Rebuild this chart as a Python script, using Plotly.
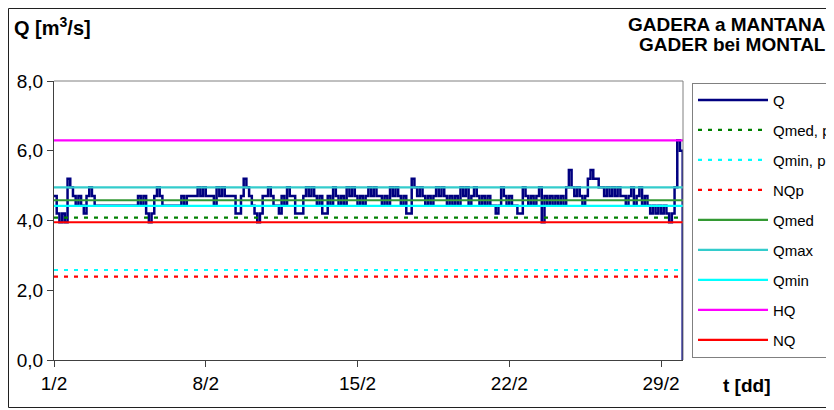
import pandas as pd
import plotly.graph_objects as go

# 3-hourly discharge readings from 2008-02-01 00:00
q_values = [
    4.7, 4.2, 3.95, 4.2, 3.95, 5.2, 4.95, 4.7,      # 1/2
    4.42, 4.7, 4.42, 4.2, 4.7, 4.95, 4.7, 4.42,     # 2/2
    4.42, 4.42, 4.42, 4.42, 4.42, 4.42, 4.42, 4.42, # 3/2
    4.42, 4.42, 4.42, 4.42, 4.42, 4.42, 4.42, 4.7,  # 4/2
    4.42, 4.7, 4.2, 3.95, 4.2, 4.7, 4.95, 4.7,      # 5/2
    4.42, 4.42, 4.42, 4.42, 4.42, 4.42, 4.42, 4.7,  # 6/2
    4.42, 4.7, 4.7, 4.7, 4.7, 4.95, 4.7, 4.95,      # 7/2
    4.7, 4.7, 4.7, 4.42, 4.95, 4.7, 4.95, 4.7,      # 8/2
    4.7, 4.7, 4.7, 4.2, 4.2, 4.7, 5.2, 4.95,        # 9/2
    4.7, 4.42, 4.2, 3.95, 4.2, 4.7, 4.7, 4.95,      # 10/2
    4.7, 4.42, 4.42, 4.2, 4.7, 4.42, 4.95, 4.7,     # 11/2
    4.7, 4.2, 4.2, 4.2, 4.7, 4.95, 4.7, 4.95,       # 12/2
    4.7, 4.42, 4.7, 4.2, 4.2, 4.7, 4.42, 4.95,      # 13/2
    4.7, 4.42, 4.7, 4.42, 4.95, 4.7, 4.95, 4.7,     # 14/2
    4.42, 4.7, 4.42, 4.7, 4.95, 4.7, 4.95, 4.7,     # 15/2
    4.7, 4.42, 4.7, 4.42, 4.95, 4.7, 4.95, 4.7,     # 16/2
    4.42, 4.7, 4.2, 4.2, 5.2, 4.95, 4.7, 4.95,      # 17/2
    4.7, 4.42, 4.7, 4.42, 4.7, 4.95, 4.7, 4.95,     # 18/2
    4.7, 4.42, 4.7, 4.42, 4.7, 4.42, 4.95, 4.7,     # 19/2
    4.95, 4.42, 4.7, 4.95, 4.7, 4.42, 4.7, 4.42,    # 20/2
    4.7, 4.42, 4.42, 4.2, 4.42, 4.95, 4.7, 4.42,    # 21/2
    4.7, 4.42, 4.42, 4.2, 4.2, 4.95, 4.7, 4.42,     # 22/2
    4.7, 4.42, 4.7, 4.95, 3.95, 4.7, 4.42, 4.7,     # 23/2
    4.42, 4.7, 4.42, 4.7, 4.42, 4.95, 5.45, 4.95,   # 24/2
    4.7, 4.95, 4.7, 4.42, 4.7, 5.2, 5.45, 5.2,      # 25/2
    5.2, 4.95, 4.95, 4.7, 4.95, 4.7, 4.95, 4.7,     # 26/2
    4.95, 4.7, 4.7, 4.42, 4.7, 4.95, 4.42, 4.7,     # 27/2
    4.95, 4.42, 4.7, 4.42, 4.2, 4.42, 4.2, 4.42,    # 28/2
    4.2, 4.42, 4.2, 3.95, 4.2, 4.95, 6.3, 6.0,      # 29/2
    0.0,                                            # 1/3
]
q_times = pd.date_range("2008-02-01 00:00", periods=len(q_values), freq="3h")

# reference levels [m3/s]
ref_names = ["Qmed, p", "Qmin, p", "NQp", "Qmed", "Qmax", "Qmin", "HQ", "NQ"]
ref_values = [4.08, 2.58, 2.39, 4.58, 4.95, 4.42, 6.30, 3.95]
ref_colors = ["#008000", "#00FFFF", "#FF0000", "#339933", "#33CCCC", "#00FFFF", "#FF00FF", "#FF0000"]
ref_dashed = [True, True, True, False, False, False, False, False]

x_start = "2008-02-01 00:00"
x_end = "2008-03-01 00:20"

x_tick_dates = ["2008-02-01", "2008-02-08", "2008-02-15", "2008-02-22", "2008-02-29"]
x_tick_labels = ["1/2", "8/2", "15/2", "22/2", "29/2"]
y_tick_vals = [0, 2, 4, 6, 8]
y_tick_labels = ["0,0", "2,0", "4,0", "6,0", "8,0"]

FONT = "Liberation Sans, Arial, sans-serif"

fig = go.Figure()
fig.add_trace(go.Scatter(
    x=q_times, y=q_values, mode="lines", name="Q",
    line=dict(color="#000080", width=2.5, shape="hv"), legendgroup="Q",
))
for name, val, col, dashed in zip(ref_names, ref_values, ref_colors, ref_dashed):
    fig.add_trace(go.Scatter(
        x=[x_start, x_end], y=[val, val], mode="lines", name=name,
        line=dict(color=col, width=2.2, dash="4px,6px" if dashed else "solid"),
        legendgroup=name,
    ))

# the page body has an 8px margin: figure pixel = window pixel - 8
OFF = 8
W, H = 834 - OFF, 410 - OFF
# plot area in window pixels
WL, WR, WT, WB = 54, 683, 81, 360
L, R, T, B = WL - OFF, WR - OFF, WT - OFF, WB - OFF


def px(xw):
    return (xw - OFF - L) / (R - L)


def py(yw):
    return (B - (yw - OFF)) / (B - T)


fig.update_layout(
    width=W, height=H,
    margin=dict(l=L, r=W - R, t=T, b=H - B, pad=0, autoexpand=False),
    paper_bgcolor="white", plot_bgcolor="white",
    font=dict(family=FONT, size=19, color="black"),
    showlegend=True,
    legend=dict(
        x=px(692), y=py(82.7), xanchor="left", yanchor="top",
        bordercolor="#808080", borderwidth=1, bgcolor="white",
        font=dict(size=15, family=FONT, color="black"),
        tracegroupgap=7.5, itemwidth=70,
    ),
    xaxis=dict(
        type="date", range=[x_start, x_end],
        tickvals=x_tick_dates, ticktext=x_tick_labels,
        ticks="outside", ticklen=6, tickcolor="#404040",
        showline=True, linecolor="#404040", linewidth=1,
        showgrid=False, zeroline=False,
        tickfont=dict(size=19),
    ),
    yaxis=dict(
        range=[0, 8], tickvals=y_tick_vals, ticktext=y_tick_labels,
        ticks="outside", ticklen=6, tickcolor="#404040",
        showline=True, linecolor="#404040", linewidth=1,
        showgrid=False, zeroline=False,
        tickfont=dict(size=19),
    ),
    shapes=[
        # plot frame (top/right grey)
        dict(type="line", xref="paper", yref="paper", x0=0, x1=1, y0=1, y1=1,
             line=dict(color="#808080", width=1)),
        dict(type="line", xref="paper", yref="paper", x0=1, x1=1, y0=0, y1=1,
             line=dict(color="#808080", width=1)),
        # outer chart border
        dict(type="rect", xref="paper", yref="paper",
             x0=px(8.5), x1=px(850), y0=py(407.5), y1=py(8.5),
             line=dict(color="#202020", width=1), layer="below"),
    ],
    annotations=[
        dict(xref="paper", yref="paper", x=px(12), y=py(26), xanchor="left", yanchor="middle",
             text="<b>Q [m<sup>3</sup>/s]</b>", showarrow=False, font=dict(size=20)),
        dict(xref="paper", yref="paper", x=px(828), y=py(24.5), xanchor="right", yanchor="middle",
             text="<b>GADERA a MANTANA</b>", showarrow=False, font=dict(size=19)),
        dict(xref="paper", yref="paper", x=px(828), y=py(44.5), xanchor="right", yanchor="middle",
             text="<b>GADER bei MONTAL</b>", showarrow=False, font=dict(size=19)),
        dict(xref="paper", yref="paper", x=px(721), y=py(385), xanchor="left", yanchor="middle",
             text="<b>t [dd]</b>", showarrow=False, font=dict(size=19)),
    ],
)

fig.write_html("out.html")
